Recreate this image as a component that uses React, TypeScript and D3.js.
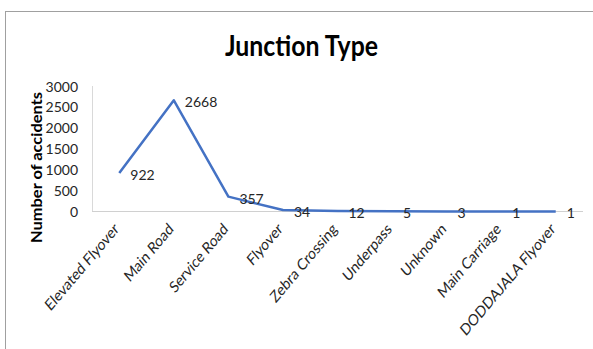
import React from "react";
import * as d3 from "d3";

const categories = [
  "Elevated Flyover",
  "Main Road",
  "Service Road",
  "Flyover",
  "Zebra Crossing",
  "Underpass",
  "Unknown",
  "Main Carriage",
  "DODDAJALA Flyover",
];
const values = [922, 2668, 357, 34, 12, 5, 3, 1, 1];
const yTicks = [0, 500, 1000, 1500, 2000, 2500, 3000];
const title = "Junction Type";
const yTitle = "Number of accidents";

const W = 593;
const H = 349;
const FONT = "Lato, 'Open Sans', sans-serif";
const STRETCH = 1.18;

export default function App() {
  const x = d3.scaleBand().domain(categories).range([92, 583]);
  const y = d3.scaleLinear().domain([0, 3000]).range([211.5, 86.5]);
  const cx = (c: string) => (x(c) as number) + x.bandwidth() / 2;
  const line = d3
    .line<number>()
    .x((_, i) => cx(categories[i]))
    .y((d) => y(d));

  return (
    <svg
      width={W}
      height={H}
      style={{ position: "absolute", left: 0, top: 0, background: "#fff" }}
    >
      <rect x={5.5} y={11.5} width={700} height={400} fill="#fff" stroke="#a0a0a0" strokeWidth={1} />
      <text
        transform={`translate(301.5,56) scale(1,1.15)`}
        textAnchor="middle"
        fontFamily={FONT}
        fontWeight="bold"
        fontSize={25}
        textLength={153}
        lengthAdjust="spacingAndGlyphs"
        fill="#000"
      >
        {title}
      </text>
      <text
        transform={`translate(42,167.5) rotate(-90)`}
        textAnchor="middle"
        fontFamily={FONT}
        fontWeight="bold"
        fontSize={15}
        textLength={151}
        lengthAdjust="spacingAndGlyphs"
        fill="#000"
      >
        {yTitle}
      </text>
      {/* axes */}
      <line x1={92.5} x2={92.5} y1={86} y2={211.5} stroke="#d9d9d9" strokeWidth={1} />
      <line x1={92} x2={583} y1={211.5} y2={211.5} stroke="#d0d0d0" strokeWidth={1} />
      {yTicks.map((t) => (
        <text
          key={t}
          x={78}
          y={y(t)}
          dy="0.36em"
          textAnchor="end"
          fontFamily={FONT}
          fontSize={14}
          fill="#262626"
        >
          {t}
        </text>
      ))}
      {categories.map((c) => (
        <text
          key={c}
          transform={`translate(${cx(c) + 0.5},${230}) scale(1,${STRETCH}) rotate(-45)`}
          textAnchor="end"
          fontFamily={FONT}
          fontSize={13.5}
          fill="#262626"
        >
          {c}
        </text>
      ))}
      <path d={line(values) || ""} fill="none" stroke="#4472C4" strokeWidth={2.5} strokeLinejoin="round" />
      {values.map((v, i) => (
        <text
          key={i}
          x={cx(categories[i]) + 11}
          y={y(v) + 2}
          dy="0.36em"
          fontFamily={FONT}
          fontSize={14}
          fill="#262626"
        >
          {v}
        </text>
      ))}
    </svg>
  );
}
